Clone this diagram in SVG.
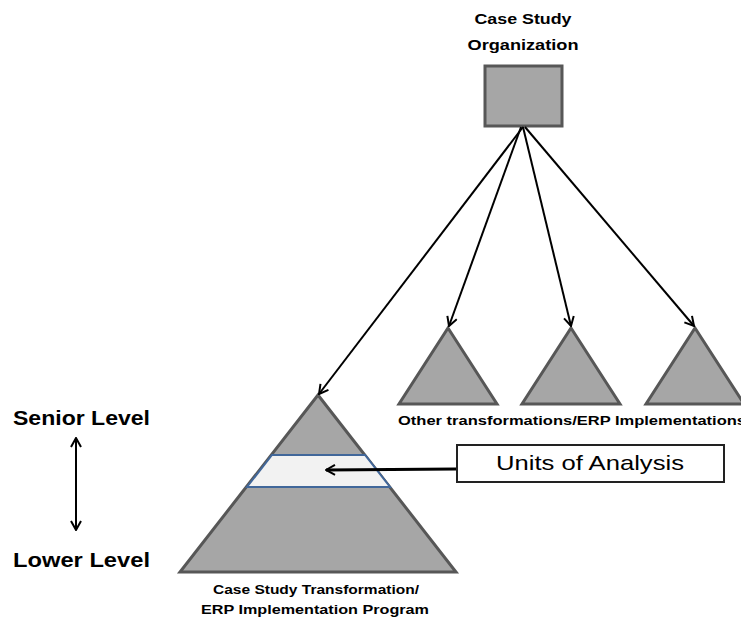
<svg xmlns="http://www.w3.org/2000/svg" width="741" height="619" viewBox="0 0 741 619">
<style>
.tri{fill:#a6a6a6;stroke:#575757;stroke-width:3;stroke-linejoin:miter}
.lbl{font-family:"Liberation Sans",Arial,sans-serif;font-weight:bold;fill:#000}
.con{stroke:#000;stroke-width:2;fill:none}
</style>
<defs>
<marker id="ah" markerWidth="12" markerHeight="12" viewBox="0 0 12 12" refX="11" refY="6" orient="auto" markerUnits="userSpaceOnUse">
<path d="M2,1 L11,6 L2,11" fill="none" stroke="#000" stroke-width="2"/>
</marker>
<marker id="ahs" markerWidth="12" markerHeight="12" viewBox="0 0 12 12" refX="1" refY="6" orient="auto" markerUnits="userSpaceOnUse">
<path d="M10,1 L1,6 L10,11" fill="none" stroke="#000" stroke-width="2"/>
</marker>
</defs>
<rect width="741" height="619" fill="#fff"/>

<g id="org">
<text class="lbl" x="523" y="24" font-size="15" text-anchor="middle" textLength="97" lengthAdjust="spacingAndGlyphs">Case Study</text>
<text class="lbl" x="523" y="50" font-size="15" text-anchor="middle" textLength="111" lengthAdjust="spacingAndGlyphs">Organization</text>
<rect x="485" y="66" width="77" height="60" fill="#a6a6a6" stroke="#575757" stroke-width="3"/>
</g>

<g id="program">
<polygon class="tri" points="318,395 456,572 180,572"/>
<polygon points="272,455 365,455 390,487 247,487" fill="#f2f2f2" stroke="#41679a" stroke-width="2"/>
<text class="lbl" x="316" y="594" font-size="12" text-anchor="middle" textLength="206" lengthAdjust="spacingAndGlyphs">Case Study Transformation/</text>
<text class="lbl" x="315" y="614" font-size="12" text-anchor="middle" textLength="228" lengthAdjust="spacingAndGlyphs">ERP Implementation Program</text>
</g>

<g id="other1"><polygon class="tri" points="448,328 497,404 399,404"/></g>
<g id="other2"><polygon class="tri" points="571,328 620,404 522,404"/></g>
<g id="other3"><polygon class="tri" points="695,328 744,404 646,404"/></g>
<g id="other-label">
<text class="lbl" x="398" y="425" font-size="12" textLength="348" lengthAdjust="spacingAndGlyphs">Other transformations/ERP Implementations</text>
</g>

<g id="units">
<rect x="457" y="445" width="267" height="37" fill="#fff" stroke="#222" stroke-width="2"/>
<text x="590" y="470" font-family="'Liberation Sans',Arial,sans-serif" font-size="21" text-anchor="middle" textLength="188" lengthAdjust="spacingAndGlyphs">Units of Analysis</text>
</g>

<g id="levels">
<text class="lbl" x="13" y="425" font-size="20" textLength="137" lengthAdjust="spacingAndGlyphs">Senior Level</text>
<text class="lbl" x="13" y="567" font-size="20" textLength="137" lengthAdjust="spacingAndGlyphs">Lower Level</text>
</g>

<g id="connectors">
<line class="con" x1="523" y1="127" x2="319" y2="394" marker-end="url(#ah)"/>
<line class="con" x1="521" y1="127" x2="449" y2="326" marker-end="url(#ah)"/>
<line class="con" x1="523" y1="127" x2="571" y2="326" marker-end="url(#ah)"/>
<line class="con" x1="525" y1="127" x2="694" y2="326" marker-end="url(#ah)"/>
<line x1="456" y1="469" x2="326" y2="470" stroke="#000" stroke-width="3" marker-end="url(#ah)"/>
<line class="con" x1="76" y1="438" x2="76" y2="530" marker-start="url(#ahs)" marker-end="url(#ah)"/>
</g>
</svg>
